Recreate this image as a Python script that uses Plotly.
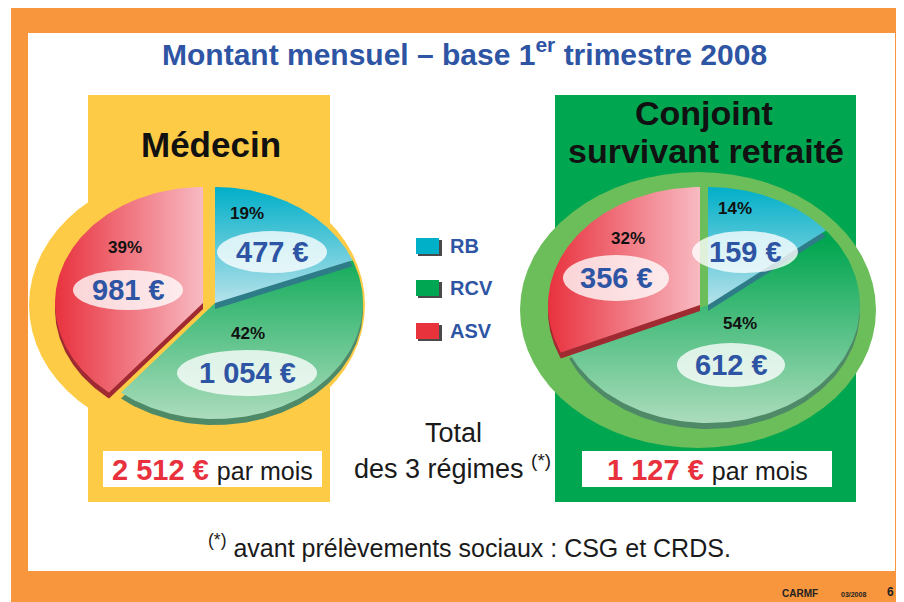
import numpy as np
import plotly.graph_objects as go

W, H = 904, 602
OFF = 8  # page margin of the html body (screen px)

# ---------------- data ----------------
categories = ["RB", "RCV", "ASV"]
medecin_values = [477, 1054, 981]
conjoint_values = [159, 612, 356]
group_names = ["Médecin", "Conjoint", "survivant retraité"]
chart_title = "Montant mensuel – base 1<sup>er</sup> trimestre 2008"
total_caption = ["Total", "des 3 régimes <sup>(*)</sup>"]
footnote_text = "<sup>(*)</sup> avant prélèvements sociaux : CSG et CRDS."
footer_text = ["CARMF", "03/2008", "6"]

# ---------------- styles ----------------
FONT = "Liberation Sans, Arial, sans-serif"
ORANGE = "#F7963C"
BLUE = "#2E54A4"
RED_TXT = "#E8313D"
YELLOW = "#FDCB45"
DKGREEN = "#00A650"
LTGREEN = "#6CBE5A"
slice_style = {
    "RB": dict(kind="vertical", cs=[[0, "#B6E2EA"], [1, "#00AFC8"]], rim="#2E7C88", solid="#00AFC8"),
    "RCV": dict(kind="vertical", cs=[[0, "#ABDCBC"], [1, "#00A54F"]], rim="#4F8A68", solid="#00A651"),
    "ASV": dict(kind="horizontal", cs=[[0, "#E8323E"], [1, "#F8BAC2"]], rim="#A02A31", solid="#E8323C"),
}
pie_geo = [
    dict(values=medecin_values, cx=215, cy=303, rx=148, ry=116, explode=12, rim=6,
         pct_pos=[(247, 213), (248, 333), (125, 247)],
         val_pos=[(272, 252, 55, 21), (247, 373, 70, 23), (128, 290, 55, 20)],
         box=(103, 451, 322, 487)),
    dict(values=conjoint_values, cx=708, cy=305, rx=152, ry=118, explode=8, rim=6,
         pct_pos=[(735, 208), (740, 323), (628, 238)],
         val_pos=[(745, 252, 53, 21), (731, 365, 54, 22), (616, 278, 53, 23)],
         box=(582, 451, 832, 487)),
]
PAD = 1.25


def px(x):
    return (x - OFF) / W


def py(y):
    return 1 - (y - OFF) / H


def fmt_eur(v):
    return f"{v:,} €".replace(",", " ")


fig = go.Figure()
shapes = []
annotations = []

# background (paper coordinates, below traces)
shapes.append(dict(type="rect", xref="paper", yref="paper", x0=px(11), x1=px(W + OFF), y0=py(H + OFF), y1=py(OFF),
                   fillcolor=ORANGE, line_width=0, layer="below"))
shapes.append(dict(type="rect", xref="paper", yref="paper", x0=px(28), x1=px(895), y0=py(571), y1=py(33),
                   fillcolor="white", line_width=0, layer="below"))
# left yellow panel
shapes.append(dict(type="rect", xref="paper", yref="paper", x0=px(88), x1=px(330), y0=py(502), y1=py(95),
                   fillcolor=YELLOW, line_width=0, layer="below"))
shapes.append(dict(type="circle", xref="paper", yref="paper", x0=px(197 - 168), x1=px(197 + 168),
                   y0=py(305 + 135), y1=py(305 - 135), fillcolor=YELLOW, line_width=0, layer="below"))
# right green panel
shapes.append(dict(type="rect", xref="paper", yref="paper", x0=px(555), x1=px(856), y0=py(502), y1=py(95),
                   fillcolor=DKGREEN, line_width=0, layer="below"))
shapes.append(dict(type="circle", xref="paper", yref="paper", x0=px(698 - 178), x1=px(698 + 178),
                   y0=py(310 + 138), y1=py(310 - 138), fillcolor=LTGREEN, line_width=0, layer="below"))

draw_order = [1, 0, 2]
for p, geo in enumerate(pie_geo):
    vals = geo["values"]
    total = sum(vals)
    fr = [v / total for v in vals]
    cum = np.concatenate([[0], np.cumsum(fr)])
    xa = "x%d" % (p + 2)
    ya = "y%d" % (p + 2)
    for i in draw_order:
        cat = categories[i]
        st = slice_style[cat]
        t = np.linspace(2 * np.pi * cum[i], 2 * np.pi * cum[i + 1], 120)
        dx = -geo["explode"] / geo["rx"] if cat == "ASV" else 0.0
        xs = np.concatenate([[0], np.sin(t), [0]]) + dx
        ys = np.concatenate([[0], np.cos(t), [0]])
        dy_rim = -geo["rim"] / geo["ry"]
        # 3D side
        fig.add_trace(go.Scatter(x=xs, y=ys + dy_rim, xaxis=xa, yaxis=ya, mode="lines", fill="toself",
                                 fillcolor=st["rim"], line=dict(width=0, color=st["rim"]),
                                 hoverinfo="skip", showlegend=False))
        # top face with gradient
        if st["kind"] == "vertical":
            grad = dict(type="vertical", colorscale=st["cs"],
                        start=(0 if cat == "RB" else -1), stop=(1 if cat == "RB" else 0.55))
        else:
            grad = dict(type="horizontal", colorscale=st["cs"], start=-1 + dx, stop=0 + dx)
        fig.add_trace(go.Scatter(x=xs, y=ys, xaxis=xa, yaxis=ya, mode="lines", fill="toself",
                                 fillgradient=grad, line=dict(width=0, color=st["solid"]),
                                 name=cat, hovertemplate=f"{cat}: {fmt_eur(vals[i])}<extra></extra>",
                                 showlegend=False))
    # labels
    for i in range(3):
        cx_, cy_, erx, ery = geo["val_pos"][i]
        shapes.append(dict(type="circle", xref="paper", yref="paper", x0=px(cx_ - erx), x1=px(cx_ + erx),
                           y0=py(cy_ + ery), y1=py(cy_ - ery), fillcolor="rgba(255,255,255,0.78)",
                           line_width=0, layer="above"))
        annotations.append(dict(x=cx_, y=cy_, xref="x", yref="y", text=f"<b>{fmt_eur(vals[i])}</b>",
                                showarrow=False, font=dict(family=FONT, size=29, color=BLUE)))
        pxp, pyp = geo["pct_pos"][i]
        annotations.append(dict(x=pxp, y=pyp, xref="x", yref="y", text=f"<b>{round(100 * vals[i] / total)}%</b>",
                                showarrow=False, font=dict(family=FONT, size=17, color="#111111")))
    # total box
    bx0, by0, bx1, by1 = geo["box"]
    shapes.append(dict(type="rect", xref="paper", yref="paper", x0=px(bx0), x1=px(bx1), y0=py(by1), y1=py(by0),
                       fillcolor="white", line_width=0, layer="below"))
    annotations.append(dict(x=(bx0 + bx1) / 2, y=(by0 + by1) / 2 + 1, xref="x", yref="y",
                            text=f"<b><span style='color:{RED_TXT}'>{fmt_eur(total)}</span></b>"
                                 f" <span style='font-size:25px'>par mois</span>",
                            showarrow=False, font=dict(family=FONT, size=29, color="#1A1A1A")))
    fig.update_layout(**{
        "xaxis%d" % (p + 2): dict(domain=[px(geo["cx"] - PAD * geo["rx"]), px(geo["cx"] + PAD * geo["rx"])],
                                  range=[-PAD, PAD], visible=False, fixedrange=True, anchor="y%d" % (p + 2)),
        "yaxis%d" % (p + 2): dict(domain=[py(geo["cy"] + PAD * geo["ry"]), py(geo["cy"] - PAD * geo["ry"])],
                                  range=[-PAD, PAD], visible=False, fixedrange=True, anchor="x%d" % (p + 2)),
    })

# legend (custom)
leg_colors = [slice_style[c]["solid"] for c in categories]
leg_y = [246, 288, 331]
for c, col, yy in zip(categories, leg_colors, leg_y):
    shapes.append(dict(type="rect", xref="paper", yref="paper", x0=px(418), x1=px(442), y0=py(yy + 10),
                       y1=py(yy - 6), fillcolor="#4A4A4A", line_width=0, layer="above"))
    shapes.append(dict(type="rect", xref="paper", yref="paper", x0=px(416), x1=px(439), y0=py(yy + 8),
                       y1=py(yy - 8), fillcolor=col, line_width=0, layer="above"))
    annotations.append(dict(x=448, y=yy, xref="x", yref="y", text=f"<b>{c}</b>", xanchor="left",
                            showarrow=False, font=dict(family=FONT, size=20, color=BLUE)))

# titles
annotations.append(dict(x=464, y=52, xref="x", yref="y", text=f"<b>{chart_title}</b>", showarrow=False,
                        font=dict(family=FONT, size=30, color=BLUE)))
annotations.append(dict(x=211, y=144, xref="x", yref="y", text=f"<b>{group_names[0]}</b>", showarrow=False,
                        font=dict(family=FONT, size=35, color="#111111")))
annotations.append(dict(x=704, y=113, xref="x", yref="y", text=f"<b>{group_names[1]}</b>", showarrow=False,
                        font=dict(family=FONT, size=34, color="#111111")))
annotations.append(dict(x=706, y=151, xref="x", yref="y", text=f"<b>{group_names[2]}</b>", showarrow=False,
                        font=dict(family=FONT, size=34, color="#111111")))
annotations.append(dict(x=453, y=433, xref="x", yref="y", text=total_caption[0], showarrow=False,
                        font=dict(family=FONT, size=27, color="#1A1A1A")))
annotations.append(dict(x=452, y=467, xref="x", yref="y", text=total_caption[1], showarrow=False,
                        font=dict(family=FONT, size=27, color="#1A1A1A")))
annotations.append(dict(x=469, y=546, xref="x", yref="y", text=footnote_text, showarrow=False,
                        font=dict(family=FONT, size=25, color="#1A1A1A")))
annotations.append(dict(x=800, y=593, xref="x", yref="y", text=f"<b>{footer_text[0]}</b>", showarrow=False,
                        font=dict(family=FONT, size=10, color="#222222")))
annotations.append(dict(x=853, y=594, xref="x", yref="y", text=f"<b>{footer_text[1]}</b>", showarrow=False,
                        font=dict(family=FONT, size=7, color="#222222")))
annotations.append(dict(x=890, y=592, xref="x", yref="y", text=f"<b>{footer_text[2]}</b>", showarrow=False,
                        font=dict(family=FONT, size=12, color="#222222")))

fig.update_layout(
    width=W, height=H, margin=dict(l=0, r=0, t=0, b=0),
    paper_bgcolor="white", plot_bgcolor="rgba(0,0,0,0)",
    xaxis=dict(domain=[0, 1], range=[OFF, W + OFF], visible=False, fixedrange=True),
    yaxis=dict(domain=[0, 1], range=[H + OFF, OFF], visible=False, fixedrange=True),
    shapes=shapes, annotations=annotations, showlegend=False,
)
fig.write_html("out.html")
